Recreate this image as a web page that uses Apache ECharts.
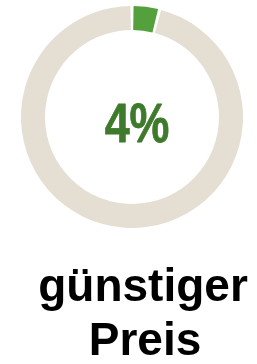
<!DOCTYPE html>
<html><head><meta charset="utf-8">
<style>html,body{margin:0;padding:0;background:#fff}#c{width:257px;height:364px}</style>
<script src="https://cdn.jsdelivr.net/npm/echarts@6/dist/echarts.min.js"></script>
</head><body><div id="c"></div>
<script>
const categories = ['günstiger Preis', 'andere'];
const values = [4, 96];
const centerLabel = '4%';
const captionLines = ['günstiger', 'Preis'];
const colors = ['#53a03c', '#e4ded3'];

const chart = echarts.init(document.getElementById('c'), null, {renderer: 'canvas'});
chart.setOption({
  animation: false,
  series: [{
    type: 'pie',
    center: [132, 117],
    radius: [87, 111],
    startAngle: 90,
    clockwise: true,
    padAngle: 1.6,
    label: {show: false},
    labelLine: {show: false},
    emphasis: {disabled: true},
    data: categories.map((n, i) => ({name: n, value: values[i], itemStyle: {color: colors[i]}}))
  }],
  graphic: [
    {type: 'text', x: 137, y: 127, scaleX: 0.8, style: {text: centerLabel, fill: '#3e7a2b', font: 'bold 56px "Liberation Sans"', align: 'center', verticalAlign: 'middle', stroke: '#3e7a2b', lineWidth: 0.8}},
    {type: 'text', x: 143, y: 288, style: {text: captionLines[0], fill: '#000', font: 'bold 46px "Liberation Sans"', align: 'center', verticalAlign: 'middle'}},
    {type: 'text', x: 145, y: 342, style: {text: captionLines[1], fill: '#000', font: 'bold 46px "Liberation Sans"', align: 'center', verticalAlign: 'middle'}}
  ]
});
</script></body></html>
